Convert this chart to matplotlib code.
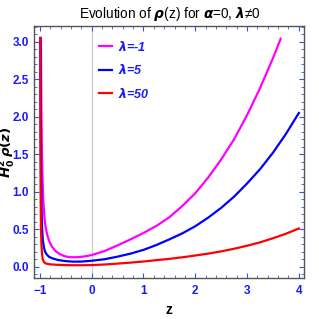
import matplotlib
matplotlib.use("Agg")
import matplotlib.pyplot as plt
from matplotlib.ticker import MultipleLocator, FormatStrFormatter

# Data
z_m = [-0.98, -0.975, -0.97, -0.96, -0.95, -0.94, -0.93, -0.91, -0.89, -0.86, -0.82, -0.77, -0.7, -0.62, -0.52,
       -0.42, -0.3, -0.2, -0.1, 0.0, 0.25, 0.5, 0.75, 1.0, 1.25, 1.5, 1.75, 2.0, 2.25, 2.5, 2.75, 3.0, 3.25, 3.5, 3.65]
rho_m = [3.05, 2.4, 2.0, 1.5, 1.18, 0.97, 0.83, 0.64, 0.53, 0.43, 0.34, 0.27, 0.21, 0.17, 0.14,
         0.127, 0.127, 0.132, 0.142, 0.156, 0.21, 0.285, 0.365, 0.45, 0.545, 0.66, 0.81, 0.98, 1.19, 1.43, 1.70, 2.02, 2.38, 2.78, 3.04]

z_b = [-0.99, -0.987, -0.984, -0.98, -0.975, -0.968, -0.96, -0.95, -0.94, -0.92, -0.9, -0.87, -0.82, -0.75, -0.65, -0.5,
       -0.36, -0.2, -0.1, 0.0, 0.25, 0.5, 0.75, 1.0, 1.25, 1.5, 1.75, 2.0, 2.25, 2.5, 2.75, 3.0, 3.25, 3.5, 3.75, 4.0]
rho_b = [3.05, 2.4, 1.9, 1.45, 1.08, 0.76, 0.56, 0.42, 0.34, 0.25, 0.2, 0.165, 0.13, 0.11, 0.09, 0.075,
         0.068, 0.069, 0.074, 0.08, 0.10, 0.135, 0.175, 0.225, 0.29, 0.365, 0.445, 0.54, 0.655, 0.785, 0.935, 1.11, 1.30, 1.52, 1.77, 2.05]

z_r = [-0.995, -0.993, -0.99, -0.986, -0.98, -0.972, -0.96, -0.946, -0.92, -0.88, -0.8, -0.65, -0.45, -0.2,
       0.0, 0.25, 0.5, 0.75, 1.0, 1.25, 1.5, 1.75, 2.0, 2.25, 2.5, 2.75, 3.0, 3.25, 3.5, 3.75, 4.0]
rho_r = [3.05, 2.2, 1.5, 0.95, 0.55, 0.32, 0.18, 0.10, 0.06, 0.042, 0.032, 0.025, 0.021, 0.02,
         0.022, 0.03, 0.042, 0.055, 0.07, 0.088, 0.105, 0.126, 0.15, 0.175, 0.205, 0.24, 0.28, 0.325, 0.38, 0.44, 0.51]

labels = [r"$\lambda$=-1", r"$\lambda$=5", r"$\lambda$=50"]
colors = ["#FF00FF", "#0000FF", "#FF0000"]

plt.rcParams['font.family'] = ['Liberation Sans', 'DejaVu Sans']
plt.rcParams['mathtext.fontset'] = 'custom'
plt.rcParams['mathtext.rm'] = 'DejaVu Sans:bold'
plt.rcParams['mathtext.it'] = 'DejaVu Sans:italic:bold'
plt.rcParams['mathtext.bf'] = 'DejaVu Sans:italic:bold'

fig = plt.figure(figsize=(3.19, 3.19), dpi=100)
ax = fig.add_axes([34/319, 1-278/319, 270/319, 252/319])

ax.axvline(0, color="#C8C8C8", lw=0.8, zorder=0)
for zz, rr, lab, c in zip([z_m, z_b, z_r], [rho_m, rho_b, rho_r], labels, colors):
    ax.plot(zz, rr, color=c, lw=1.6, label=lab, solid_joinstyle='round')

ax.set_xlim(-1.114, 4.1)
ax.set_ylim(-0.15, 3.21)
ax.xaxis.set_major_locator(MultipleLocator(1))
ax.xaxis.set_minor_locator(MultipleLocator(0.2))
ax.yaxis.set_major_locator(MultipleLocator(0.5))
ax.yaxis.set_minor_locator(MultipleLocator(0.1))
ax.yaxis.set_major_formatter(FormatStrFormatter('%.1f'))
ax.tick_params(which='both', direction='in', top=True, right=True, color='#3050FF')
ax.tick_params(which='major', length=3.5, width=0.8, labelsize=8.5, labelcolor='#1A1AFF', pad=5)
ax.tick_params(axis='y', which='major', pad=3.5)
ax.tick_params(which='minor', length=2, width=0.6)
for t in ax.get_xticklabels() + ax.get_yticklabels():
    t.set_fontweight('bold')
for s in ax.spines.values():
    s.set_color('#555555')
    s.set_linewidth(1.0)

ax.set_xlabel("z", fontsize=10, fontweight='bold', labelpad=4)
fig.text(8/319, 1-152/319, r"$H_0^2\,\rho(z)$", rotation=90, fontsize=9.5,
         ha='center', va='center')
fig.text(170/319, 1-14/319, r"Evolution of $\rho$(z) for $\alpha$=0, $\lambda$≠0", fontsize=9.8,
         ha='center', va='center')

leg = ax.legend(loc='upper left', bbox_to_anchor=(0.2, 0.99), frameon=False,
                handlelength=1.0, handletextpad=0.5, labelspacing=0.75, fontsize=9)
for t in leg.get_texts():
    t.set_color('#1A1AFF')
    t.set_fontweight('bold')
    t.set_fontstyle('italic')

fig.savefig("out.png", dpi=100)
